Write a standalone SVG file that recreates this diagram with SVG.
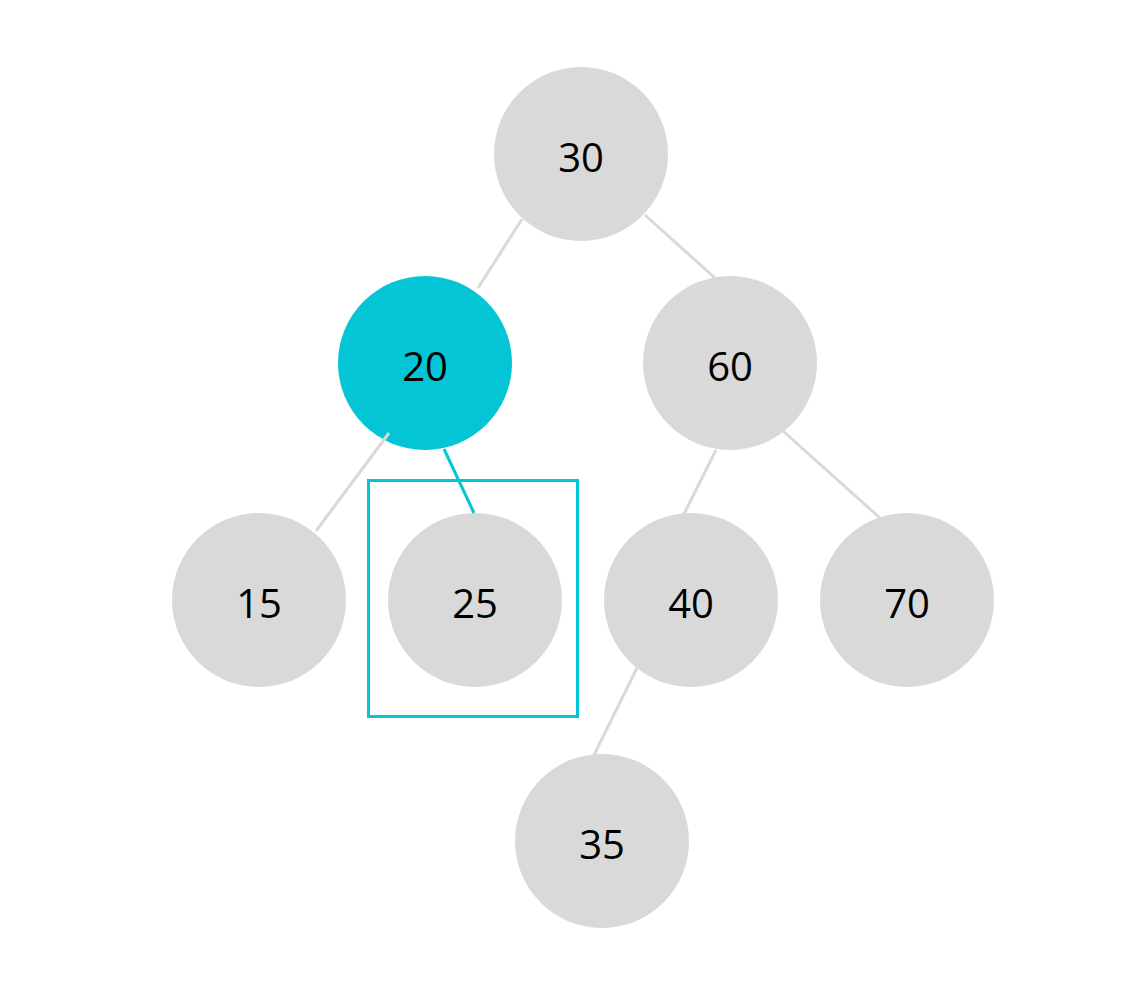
<svg xmlns="http://www.w3.org/2000/svg" width="1144" height="986" viewBox="0 0 1144 986">
<style>
.n{fill:#d9d9d9}
.hl{fill:#04c5d6}
.t{font-family:"Open Sans","Noto Sans",sans-serif;font-size:40px;fill:#000;text-anchor:middle}
.e{stroke:#d9d9d9;stroke-width:3;fill:none}
.ec{stroke:#04c5d6;stroke-width:3;fill:none}
</style>
<rect width="1144" height="986" fill="#fff"/>
<g id="highlight-box"><rect x="368.5" y="480.5" width="209" height="236" fill="none" stroke="#04c5d6" stroke-width="3"/></g>
<g id="n30"><circle class="n" cx="581" cy="154" r="87"/><text class="t" x="581" y="172">30</text></g>
<g id="n20"><circle class="hl" cx="425" cy="363" r="87"/><text class="t" x="425" y="381">20</text></g>
<g id="n60"><circle class="n" cx="730" cy="363" r="87"/><text class="t" x="730" y="381">60</text></g>
<g id="n15"><circle class="n" cx="259" cy="600" r="87"/><text class="t" x="259" y="618">15</text></g>
<g id="n25"><circle class="n" cx="475" cy="600" r="87"/><text class="t" x="475" y="618">25</text></g>
<g id="n40"><circle class="n" cx="691" cy="600" r="87"/><text class="t" x="691" y="618">40</text></g>
<g id="n70"><circle class="n" cx="907" cy="600" r="87"/><text class="t" x="907" y="618">70</text></g>
<g id="n35"><circle class="n" cx="602" cy="841" r="87"/><text class="t" x="602" y="859">35</text></g>
<g id="connectors">
<line class="e" x1="522" y1="219" x2="478" y2="288"/>
<line class="e" x1="645" y1="215" x2="715" y2="278"/>
<line class="e" x1="389" y1="433" x2="316" y2="531"/>
<line class="ec" x1="444" y1="449" x2="474" y2="513"/>
<line class="e" x1="716" y1="450" x2="684" y2="514"/>
<line class="e" x1="783" y1="431" x2="880" y2="518"/>
<line class="e" x1="637" y1="668" x2="594" y2="755"/>
</g>
</svg>
